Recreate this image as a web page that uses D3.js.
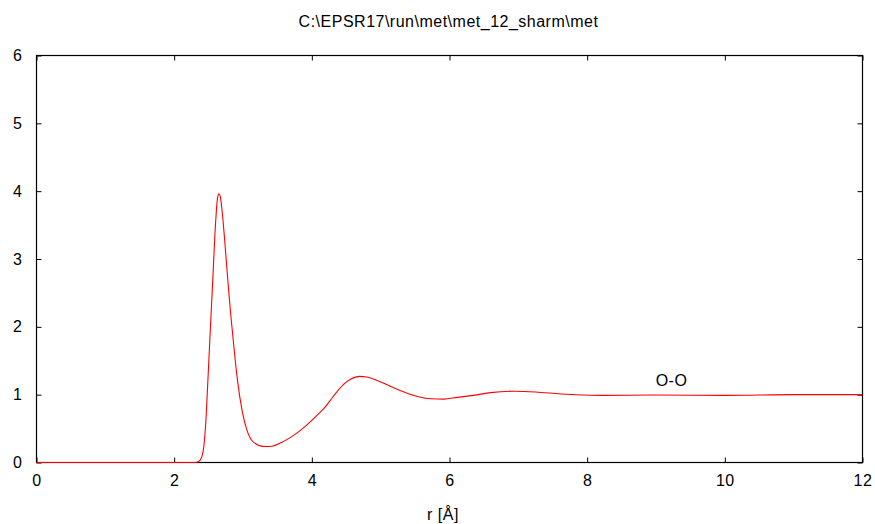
<!DOCTYPE html>
<html>
<head>
<meta charset="utf-8">
<script src="https://cdn.jsdelivr.net/npm/d3@7"></script>
<style>
  html, body { margin: 0; padding: 0; background: #fff; }
  svg { display: block; font-family: "Liberation Sans", Arial, sans-serif; }
</style>
</head>
<body>
<svg id="chart" width="875" height="524"></svg>
<script>
const title = "C:\\EPSR17\\run\\met\\met_12_sharm\\met";
const xLabel = "r [Å]";
const seriesLabel = "O-O";
const xTicks = [0, 2, 4, 6, 8, 10, 12];
const yTicks = [0, 1, 2, 3, 4, 5, 6];
const rValues = [0, 2.3, 2.35, 2.40, 2.43, 2.46, 2.49, 2.52, 2.56, 2.60, 2.63, 2.65, 2.67, 2.70, 2.74, 2.78, 2.82, 2.87, 2.92, 2.99, 3.05, 3.11, 3.18, 3.25, 3.33, 3.42, 3.55, 3.69, 3.79, 3.90, 4.0, 4.09, 4.18, 4.27, 4.37, 4.47, 4.57, 4.69, 4.80, 4.95, 5.15, 5.34, 5.55, 5.73, 5.92, 6.11, 6.35, 6.6, 6.94, 7.25, 7.62, 8.2, 9.0, 10.0, 11.0, 12.0];
const gValues = [0, 0, 0.01, 0.08, 0.23, 0.6, 1.21, 1.85, 2.68, 3.5, 3.9, 3.96, 3.92, 3.67, 3.2, 2.68, 2.2, 1.68, 1.21, 0.75, 0.5, 0.35, 0.28, 0.245, 0.235, 0.24, 0.29, 0.37, 0.44, 0.53, 0.62, 0.71, 0.8, 0.92, 1.05, 1.16, 1.23, 1.27, 1.26, 1.21, 1.12, 1.04, 0.97, 0.94, 0.935, 0.96, 0.99, 1.03, 1.05, 1.04, 1.01, 0.99, 0.995, 0.99, 1.0, 1.0];

const svg = d3.select("#chart");
const L = 36.5, R = 862.5, T = 55.5, B = 462.5;
const x = d3.scaleLinear().domain([0, 12]).range([L, R]);
const y = d3.scaleLinear().domain([0, 6]).range([B, T]);

// frame
svg.append("rect").attr("x", L).attr("y", T).attr("width", R - L).attr("height", B - T)
  .attr("fill", "none").attr("stroke", "#000").attr("stroke-width", 1.2);

const tickLen = 5;
const fmt = d3.format("d");
const xAxisB = d3.axisBottom(x).tickValues(xTicks).tickFormat(fmt).tickSizeInner(-tickLen).tickSizeOuter(0).tickPadding(12);
const gxb = svg.append("g").attr("transform", `translate(0,${B})`).call(xAxisB);
const xAxisT = d3.axisTop(x).tickValues(xTicks).tickSizeInner(-tickLen).tickSizeOuter(0).tickFormat("");
const gxt = svg.append("g").attr("transform", `translate(0,${T})`).call(xAxisT);
const yAxisL = d3.axisLeft(y).tickValues(yTicks).tickFormat(fmt).tickSizeInner(-tickLen).tickSizeOuter(0).tickPadding(14);
const gyl = svg.append("g").attr("transform", `translate(${L},0)`).call(yAxisL);
const yAxisR = d3.axisRight(y).tickValues(yTicks).tickSizeInner(-tickLen).tickSizeOuter(0).tickFormat("");
const gyr = svg.append("g").attr("transform", `translate(${R},0)`).call(yAxisR);

[gxb, gxt, gyl, gyr].forEach(g => {
  g.select(".domain").remove();
  g.selectAll("line").attr("stroke", "#000");
  g.selectAll("text").attr("font-family", "Liberation Sans, Arial, sans-serif")
    .attr("font-size", 16).attr("letter-spacing", 0.5).attr("fill", "#000");
});

// curve
const data = rValues.map((r, i) => ({ r, g: gValues[i] }));
const line = d3.line().x(d => x(d.r)).y(d => y(d.g)).curve(d3.curveMonotoneX);
svg.append("path").datum(data).attr("d", line)
  .attr("fill", "none").attr("stroke", "#ff0000").attr("stroke-width", 1.1);

// title
svg.append("text").attr("x", 448.5).attr("y", 27).attr("text-anchor", "middle")
  .attr("font-size", 16).attr("letter-spacing", 0.5).attr("fill", "#000").text(title);

// x label
svg.append("text").attr("x", 443).attr("y", 520).attr("text-anchor", "middle")
  .attr("font-size", 16).attr("letter-spacing", 0.5).attr("fill", "#000").text(xLabel);

// series label
svg.append("text").attr("x", 671.5).attr("y", 386).attr("text-anchor", "middle")
  .attr("font-size", 16).attr("letter-spacing", 0.5).attr("fill", "#000").text(seriesLabel);
</script>
</body>
</html>
